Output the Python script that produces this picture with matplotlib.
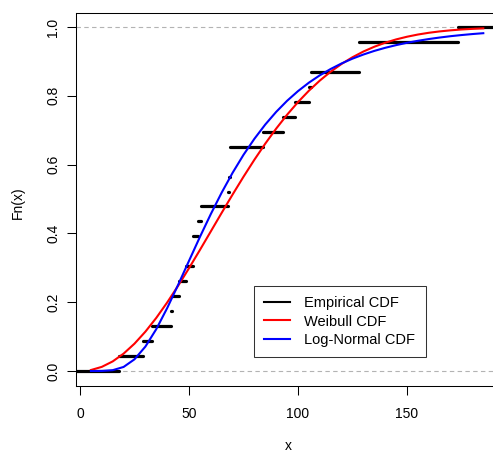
import matplotlib
matplotlib.use("Agg")
import matplotlib.pyplot as plt
from matplotlib.lines import Line2D

# ---- data ----
# observed sample (sorted) behind the empirical CDF steps
x_obs = [17.88, 28.92, 33.00, 41.52, 42.12, 45.60, 48.48, 51.84, 51.96, 54.12,
         55.56, 67.80, 68.40, 68.64, 68.88, 84.12, 93.12, 98.64, 105.12, 105.84,
         127.92, 128.04, 173.40]

# fitted CDF curves, values read along a grid of x
x_grid = [5, 10, 15, 20, 25, 30, 35, 40, 45, 50, 55, 60, 65, 70, 75, 80, 85, 90,
          95, 100, 105, 110, 115, 120, 125, 130, 135, 140, 145, 150, 155, 160,
          165, 170, 175, 180, 185]
weibull_cdf = [0.0028, 0.0120, 0.0279, 0.0505, 0.0795, 0.1144, 0.1545, 0.1993,
               0.2476, 0.2988, 0.3518, 0.4058, 0.4599, 0.5130, 0.5647, 0.6142,
               0.6611, 0.7047, 0.7450, 0.7817, 0.8148, 0.8442, 0.8701, 0.8927,
               0.9121, 0.9287, 0.9426, 0.9543, 0.9639, 0.9717, 0.9781, 0.9832,
               0.9872, 0.9903, 0.9928, 0.9946, 0.9961]
lognorm_cdf = [0.0000, 0.0001, 0.0024, 0.0118, 0.0340, 0.0710, 0.1218, 0.1830,
               0.2503, 0.3202, 0.3896, 0.4562, 0.5187, 0.5762, 0.6284, 0.6750,
               0.7166, 0.7533, 0.7855, 0.8136, 0.8382, 0.8595, 0.8780, 0.8941,
               0.9080, 0.9200, 0.9305, 0.9395, 0.9473, 0.9541, 0.9599, 0.9650,
               0.9694, 0.9733, 0.9766, 0.9795, 0.9820]

x_ticks = [0, 50, 100, 150]
x_ticklabels = ["0", "50", "100", "150"]
y_ticks = [0.0, 0.2, 0.4, 0.6, 0.8, 1.0]
y_ticklabels = ["0.0", "0.2", "0.4", "0.6", "0.8", "1.0"]
legend_labels = ["Empirical CDF", "Weibull CDF", "Log-Normal CDF"]
legend_colors = ["black", "#ff0000", "#0000ff"]

plt.rcParams['font.family'] = ['Liberation Sans', 'DejaVu Sans']

W, H = 493, 453
fig = plt.figure(figsize=(W / 100, H / 100), dpi=100)
ax = fig.add_axes([76 / W, 67 / H, 419 / W, 373 / H])
xmin, xmax = -1.835, 190.37
ax.set_xlim(xmin, xmax)
ax.set_ylim(-0.0436, 1.0407)

# gray reference lines
for h in (0.0, 1.0):
    ax.axhline(h, color="#b3b3b3", lw=0.8, ls=(0, (4, 3)), zorder=1)

# empirical CDF as horizontal steps
n = len(x_obs)
starts = [xmin - 20] + x_obs
ends = x_obs + [xmax + 20]
levels = [k / n for k in range(n + 1)]
segs = ax.hlines(levels, starts, ends, colors="black", lw=2.3, zorder=2)
segs.set_capstyle("round")

ax.plot(x_grid, weibull_cdf, color=legend_colors[1], lw=1.5, zorder=3)
ax.plot(x_grid, lognorm_cdf, color=legend_colors[2], lw=1.5, zorder=4)

ax.set_xticks(x_ticks)
ax.set_xticklabels(x_ticklabels)
ax.set_yticks(y_ticks)
ax.set_yticklabels(y_ticklabels)
ax.tick_params(axis="both", direction="out", length=6.2, width=0.75,
               labelsize=10, colors="black")
ax.tick_params(axis="x", pad=9.0)
ax.tick_params(axis="y", pad=5.0)
for lab in ax.get_yticklabels():
    lab.set_rotation(90)
    lab.set_va("center")
for sp in ax.spines.values():
    sp.set_linewidth(0.75)

fig.text(288.7 / W, 1 - 449.5 / H, "x", ha="center", va="baseline", fontsize=10)
fig.text(18 / W, 1 - 203 / H, "Fn(x)", ha="center", va="center",
         rotation=90, fontsize=10)

handles = [Line2D([], [], color=c, lw=1.5) for c in legend_colors]
leg = ax.legend(handles, legend_labels, loc="upper left",
                bbox_to_anchor=((254 - 76) / 419, (386 - 286) / 373),
                borderaxespad=0, fontsize=10.5, handlelength=1.8,
                handletextpad=0.95, labelspacing=0.3, borderpad=0.7,
                fancybox=False, framealpha=1)
leg.get_frame().set_edgecolor("#333333")
leg.get_frame().set_linewidth(0.75)

fig.savefig("out.png", dpi=100)
